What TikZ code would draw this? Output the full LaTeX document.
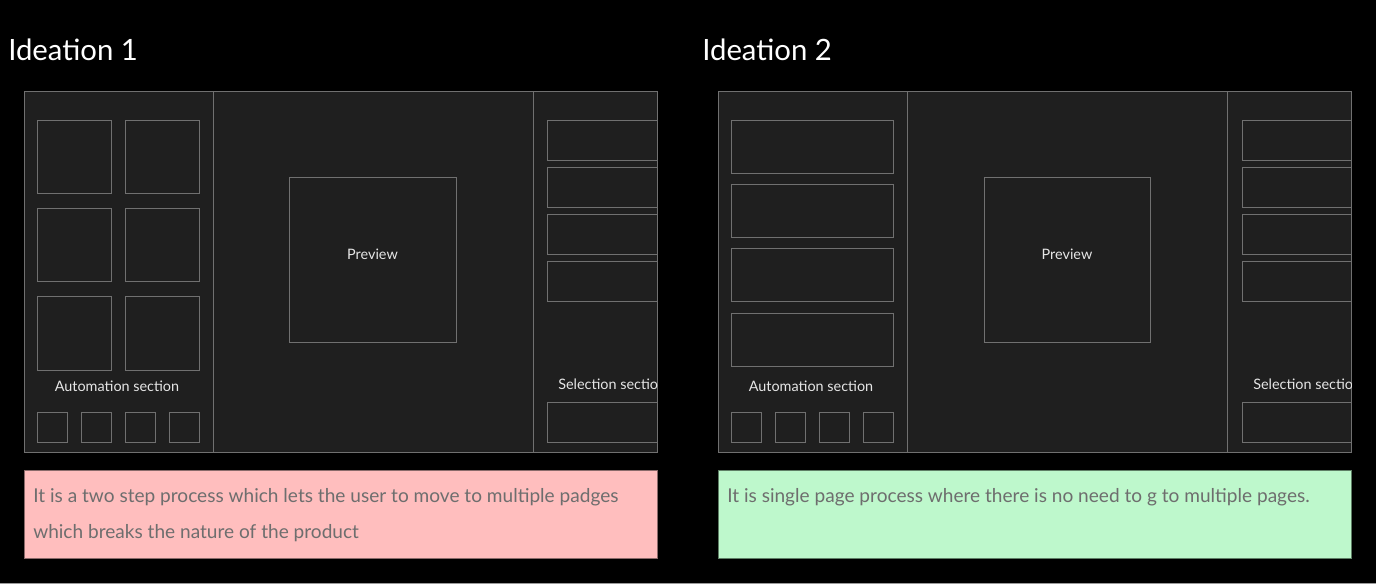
\documentclass[tikz,border=0pt]{standalone}
\usepackage{fontspec}
\setmainfont{Lato}
\definecolor{panelbg}{HTML}{1F1F1F}
\definecolor{lineg}{HTML}{707070}
\definecolor{labelc}{HTML}{E6E6E6}
\definecolor{pinkbg}{HTML}{FFBEBE}
\definecolor{pinkbd}{HTML}{8A6A6A}
\definecolor{greenbg}{HTML}{BEF8CC}
\definecolor{greenbd}{HTML}{5F7F66}
\definecolor{notec}{HTML}{6E6E6E}
\tikzset{
  panel/.style={draw=lineg, fill=panelbg, line width=0.75pt},
  wire/.style={draw=lineg, line width=0.75pt},
  lbl/.style={text=labelc, font=\fontsize{10.8}{12}\selectfont, inner sep=0pt},
  ttl/.style={text=white, font=\fontsize{22}{26}\selectfont, inner sep=0pt, anchor=west},
  note/.style={text=notec, font=\fontsize{14.3}{16}\selectfont, inner sep=0pt, anchor=west}
}
\begin{document}
\begin{tikzpicture}[x=0.75pt, y=-0.75pt]
\fill[black] (0,0) rectangle (1376,584);
\useasboundingbox (0,0) rectangle (1376,584);
\draw[lineg!70, line width=0.75pt] (0,583.5) -- (1376,583.5);
% ---------- Ideation 1 ----------
\node[ttl] (t1) at (8,50) {Ideation 1};
\draw[panel] (24,92) rectangle (657,452);
\draw[wire] (213,92) -- (213,452);
\draw[wire] (533,92) -- (533,452);
\foreach \yy in {121,209,297} {
  \draw[wire] (37,\yy) rectangle (111,\yy+73);
  \draw[wire] (125,\yy) rectangle (199,\yy+73);
}
\node[lbl] (auto1) at (117,386) {Automation section};
\foreach \xx in {37,81,125,169} \draw[wire] (\xx,412) rectangle (\xx+30,442);
\draw[wire] (289,178) rectangle (456,342);
\node[lbl] (prev1) at (372.5,254) {Preview};
\foreach \yy in {121,168,215,262} \draw[wire] (547,\yy) rectangle (657,\yy+40);
\begin{scope}
  \clip (534,360) rectangle (657,400);
  \node[lbl, anchor=west] (sel1) at (558,384) {Selection section};
\end{scope}
\draw[wire] (547,402) rectangle (657,442);
\draw[fill=pinkbg, draw=pinkbd, line width=0.75pt] (24,470) rectangle (657,558);
\node[note] (n1a) at (33,497) {It is a two step process which lets the user to move to multiple padges};
\node[note] (n1b) at (33,533) {which breaks the nature of the product};
% ---------- Ideation 2 ----------
\node[ttl] (t2) at (702,50) {Ideation 2};
\draw[panel] (718,92) rectangle (1351,452);
\draw[wire] (907,92) -- (907,452);
\draw[wire] (1227,92) -- (1227,452);
\foreach \yy in {121,185,249,313} \draw[wire] (731.5,\yy) rectangle (893,\yy+53);
\node[lbl] (auto2) at (811,386) {Automation section};
\foreach \xx in {731.5,775,819,863} \draw[wire] (\xx,412) rectangle (\xx+30,442);
\draw[wire] (984,178) rectangle (1150,342);
\node[lbl] (prev2) at (1067,254) {Preview};
\foreach \yy in {121,168,215,262} \draw[wire] (1242,\yy) rectangle (1351,\yy+40);
\begin{scope}
  \clip (1228,360) rectangle (1351,400);
  \node[lbl, anchor=west] (sel2) at (1253,384) {Selection section};
\end{scope}
\draw[wire] (1242,402) rectangle (1351,442);
\draw[fill=greenbg, draw=greenbd, line width=0.75pt] (718,470) rectangle (1351,558);
\node[note] (n2a) at (727,497) {It is single page process where there is no need to g to multiple pages.};
\end{tikzpicture}
\end{document}
